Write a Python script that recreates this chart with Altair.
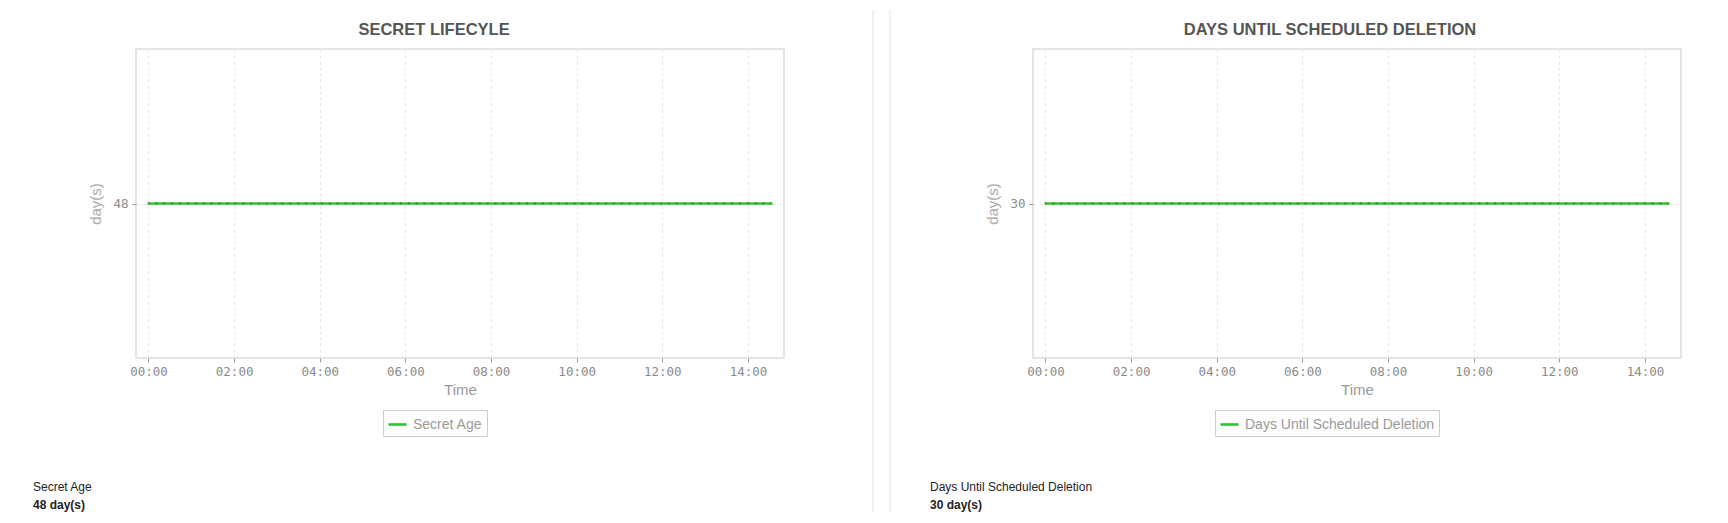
import altair as alt
import pandas as pd

# ---------------- data ----------------
n_points = 80
sample_times = [t.strftime("%Y-%m-%dT%H:%M:%S")
                for t in pd.date_range("2024-01-01 00:00", "2024-01-01 14:33", periods=n_points)]
secret_age = [48] * n_points
days_until_deletion = [30] * n_points
tick_hours = [0, 2, 4, 6, 8, 10, 12, 14]

panels = [
    dict(title="SECRET LIFECYLE", series="Secret Age", values=secret_age,
         ytick=48, ydomain=[47, 49], summary_label="Secret Age", summary_value="48 day(s)"),
    dict(title="DAYS UNTIL SCHEDULED DELETION", series="Days Until Scheduled Deletion",
         values=days_until_deletion, ytick=30, ydomain=[29, 31],
         summary_label="Days Until Scheduled Deletion", summary_value="30 day(s)"),
]

# ---------------- style ----------------
GREEN = "#33c233"
DOT = "#1e8c1e"
W, H = 648, 309
SANS = "Liberation Sans, Arial, sans-serif"
NARROW = "Liberation Sans Narrow, Arial Narrow, Liberation Sans, sans-serif"
MONO = "DejaVu Sans Mono, monospace"

x_domain = [alt.DateTime(year=2023, month=12, date=31, hours=23, minutes=42, seconds=30),
            alt.DateTime(year=2024, month=1, date=1, hours=14, minutes=50, seconds=30)]
x_ticks = [alt.DateTime(year=2024, month=1, date=1, hours=h) for h in tick_hours]

one = pd.DataFrame({"k": [0]})


def make_panel(p, legend_x, title_x, is_left):
    df = pd.DataFrame({"time": sample_times, "value": p["values"], "series": p["series"]})
    base = alt.Chart(df)
    x = alt.X("time:T", scale=alt.Scale(domain=x_domain),
              axis=alt.Axis(values=x_ticks, format="%H:%M", title="Time",
                            labelFont=MONO, labelFontSize=12.5, labelColor="#8a8a8a",
                            labelPadding=3, tickSize=4, tickColor="#999",
                            titleFont=NARROW, titleFontSize=15, titleColor="#999",
                            titleFontWeight="normal", titlePadding=5,
                            grid=True, gridDash=[3, 3], gridColor="#e6e6e6", domain=False))
    y = alt.Y("value:Q", scale=alt.Scale(domain=p["ydomain"]),
              axis=alt.Axis(values=[p["ytick"]], format="d", title="day(s)",
                            labelFont=MONO, labelFontSize=12.5, labelColor="#8a8a8a",
                            labelPadding=4, tickSize=4, tickColor="#999",
                            titleFont=SANS, titleFontSize=15, titleColor="#aaa",
                            titleFontWeight="normal", titlePadding=9,
                            grid=True, gridDash=[3, 3], gridColor="#e6e6e6", domain=False))
    line = base.mark_line(strokeWidth=2.6).encode(
        x=x, y=y,
        color=alt.Color("series:N", scale=alt.Scale(range=[GREEN]),
                        legend=alt.Legend(orient="none", legendX=legend_x, legendY=361,
                                          title=None, strokeColor="#cccccc", padding=4,
                                          symbolType="stroke", symbolSize=324,
                                          symbolStrokeWidth=2.6, labelFont=SANS,
                                          labelFontSize=14, labelColor="#999",
                                          labelOffset=5, labelLimit=500)))
    pts = base.mark_circle(size=6, color=DOT, opacity=0.7).encode(x=x, y=y)

    title = alt.Chart(one).mark_text(font=SANS, fontSize=16.5, fontWeight="bold", color="#555",
                                     align="center", baseline="middle").encode(
        x=alt.value(title_x), y=alt.value(-19), text=alt.value(p["title"]))
    lab = alt.Chart(one).mark_text(font=NARROW, fontSize=12, color="#222",
                                   align="left", baseline="middle").encode(
        x=alt.value(-103), y=alt.value(438), text=alt.value(p["summary_label"]))
    val = alt.Chart(one).mark_text(font=NARROW, fontSize=12, fontWeight="bold", color="#222",
                                   align="left", baseline="middle").encode(
        x=alt.value(-103), y=alt.value(456), text=alt.value(p["summary_value"]))
    layers = [line, pts, title, lab, val]
    if is_left:
        divider = alt.Chart(one).mark_rule(color="#e2e2e2", strokeWidth=1).encode(
            x=alt.value(737), y=alt.value(-39), y2=alt.value(463))
        anchor = alt.Chart(one).mark_rule(color="white", strokeWidth=1).encode(
            x=alt.value(-126), y=alt.value(-39), y2=alt.value(-38))
        layers += [divider, anchor]
    else:
        divider = alt.Chart(one).mark_rule(color="#e2e2e2", strokeWidth=1).encode(
            x=alt.value(-143), y=alt.value(-39), y2=alt.value(463))
        layers += [divider]
    return alt.layer(*layers).properties(width=W, height=H)


left = make_panel(panels[0], legend_x=247, title_x=298, is_left=True)
right = make_panel(panels[1], legend_x=182, title_x=297, is_left=False)

chart = alt.hconcat(left, right, spacing=13).resolve_scale(
    color="independent").resolve_legend(color="independent").properties(
    padding=0, background="white").configure_view(stroke="#dcdcdc", strokeWidth=1.5)

chart.save("out.html", embed_options={"renderer": "svg", "actions": False})
